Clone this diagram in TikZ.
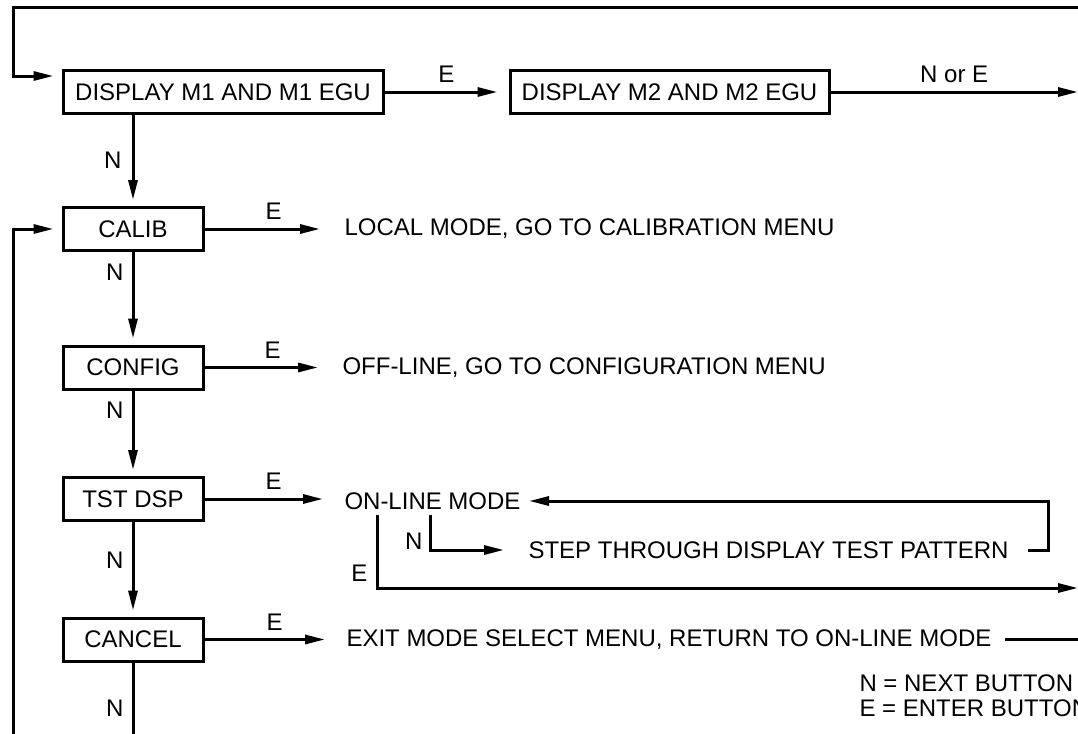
\documentclass[tikz,border=0pt]{standalone}
\usepackage{fontspec}
\setmainfont{Liberation Sans}
\usetikzlibrary{arrows.meta,positioning}
\begin{document}
\begin{tikzpicture}[x=0.5pt,y=-0.5pt,
  line width=1.5pt,
  menubox/.style={draw, minimum width=70pt, minimum height=21.5pt, inner sep=0pt, font=\fontsize{12}{14}\selectfont},
  widebox/.style={menubox, minimum width=160pt},
  msg/.style={anchor=west, inner sep=0pt, font=\fontsize{12}{14}\selectfont},
  key/.style={inner sep=3pt, font=\fontsize{12}{14}\selectfont},
  flow/.style={-{Triangle[length=10pt,width=4.5pt]}}]
\useasboundingbox (0,0) rectangle (1078,734);
\node[widebox] (m1) at (223,92) {DISPLAY M1 AND M1 EGU};
\node[widebox, minimum width=159.5pt] (m2) at (669.5,92) {DISPLAY M2 AND M2 EGU};
\node[menubox] (calib) at (133,229) {CALIB};
\node[menubox] (config) at (133,367.5) {CONFIG};
\node[menubox] (tstdsp) at (133,499) {TST DSP};
\node[menubox] (cancel) at (133,639.5) {CANCEL};
\node[msg] (localmode) at (343,229) {LOCAL MODE, GO TO CALIBRATION MENU};
\node[msg] (offline) at (341,367.5) {OFF-LINE, GO TO CONFIGURATION MENU};
\node[msg] (online) at (343,501) {ON-LINE MODE};
\node[msg] (step) at (527,550) {STEP THROUGH DISPLAY TEST PATTERN};
\node[msg] (exitmsg) at (345,639.5) {EXIT MODE SELECT MENU, RETURN TO ON-LINE MODE};
\node[msg] (keyn) at (858,683) {N = NEXT BUTTON};
\node[msg] (keye) at (858,708) {E = ENTER BUTTON};
\coordinate (topin) at (1078,7);
\coordinate (loopin) at (13,734);
\coordinate (outa) at (1078,92);
\coordinate (outb) at (1078,588);
\coordinate (cancelout) at (133,734);
\draw[flow] (topin) -- (13,7) |- ([xshift=-4pt,yshift=8pt]m1.west);
\draw[flow] (loopin) |- ([xshift=-4pt]calib.west);
\draw[flow, shorten >=5.5pt] (m1.east) -- (m2.west) node[midway, above=1pt, key] {E};
\draw[flow] (m2.east) -- (outa) node[midway, above=1pt, key] {N or E};
\draw[flow, shorten >=3pt] (m1.south -| calib.north) -- (calib.north) node[midway, left=2pt, key] {N};
\draw[flow, shorten >=3pt] (calib.south) -- (config.north) node[pos=0.22, left=1pt, key] {N};
\draw[flow, shorten >=3pt] (config.south) -- (tstdsp.north) node[pos=0.23, left=1pt, key] {N};
\draw[flow, shorten >=3pt] (tstdsp.south) -- (cancel.north) node[pos=0.4, left=1pt, key] {N};
\draw (cancel.south) -- (cancelout) node[pos=0.64, left=1pt, key] {N};
\draw[flow, shorten >=11.5pt] (calib.east) -- (calib.east -| localmode.west) node[midway, above=1pt, key] {E};
\draw[flow, shorten >=11.5pt] (config.east) -- (config.east -| offline.west) node[midway, above=1pt, key] {E};
\draw[flow, shorten >=10pt] (tstdsp.east) -- (tstdsp.east -| online.west) node[midway, above=1pt, key] {E};
\draw[flow, shorten >=10pt] (cancel.east) -- (cancel.east -| exitmsg.west) node[midway, above=1pt, key] {E};
\draw[flow] ([xshift=9pt]step.east) -- ++(10pt,0) |- ([xshift=3.5pt]online.east);
\draw[flow, shorten >=11.5pt] ([xshift=43.5pt,yshift=-2pt]online.south west) |- (step.west) node[pos=0.37, left=0pt, key] {N};
\draw[flow] ([xshift=17pt,yshift=-2pt]online.south west) |- (outb) node[pos=0.4, left=1pt, key] {E};
\draw ([xshift=6pt]exitmsg.east) -- (exitmsg.east -| outb);
\end{tikzpicture}
\end{document}
